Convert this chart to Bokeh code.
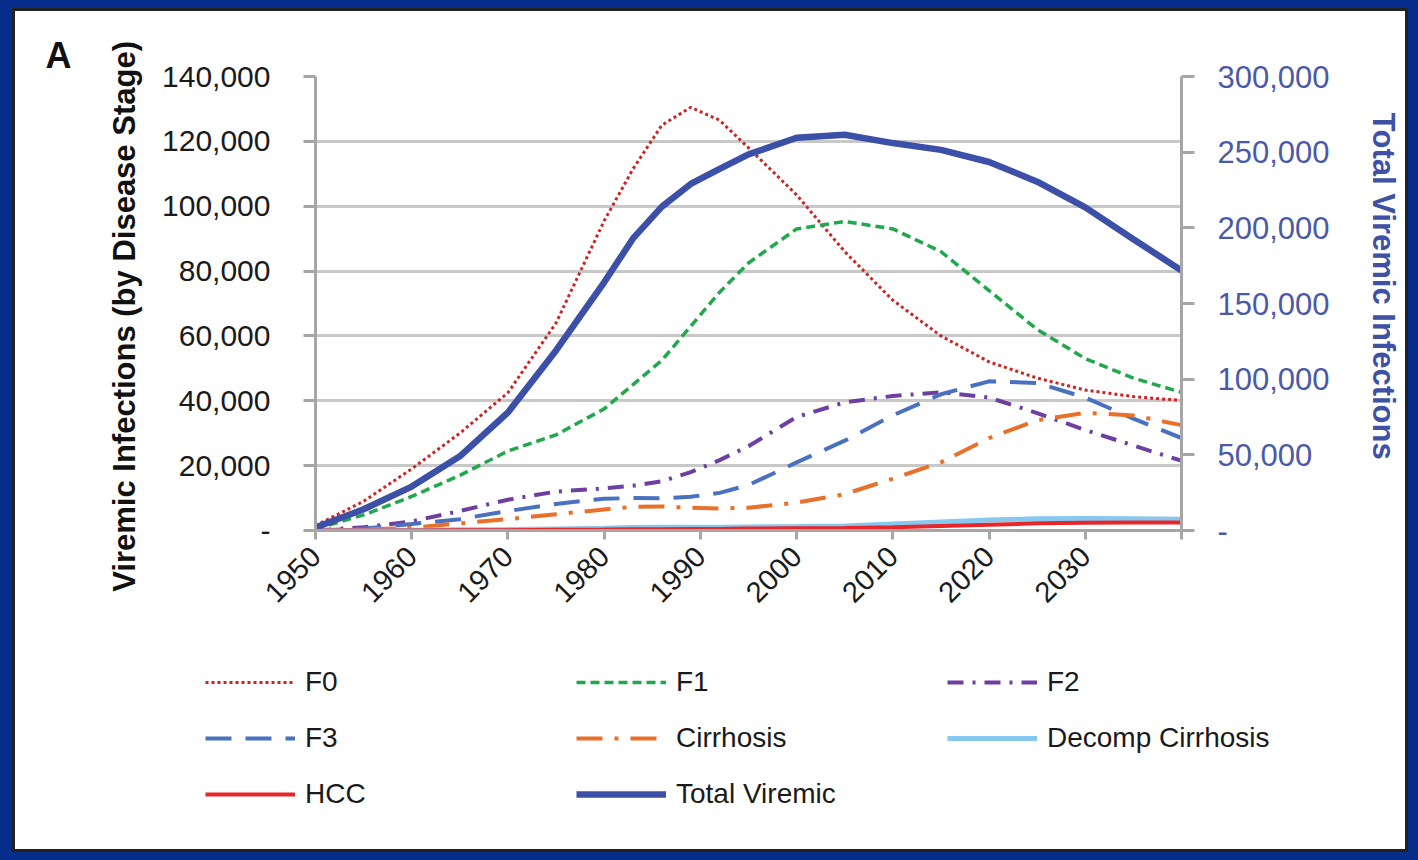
import math
from bokeh.plotting import figure
from bokeh.models import (Range1d, LinearAxis, FixedTicker, NumeralTickFormatter,
                          Legend, LegendItem)
from bokeh.layouts import column
from bokeh.embed import file_html
from bokeh.resources import INLINE

# ---------------- data ----------------
years = [1950, 1955, 1960, 1965, 1970, 1975, 1980, 1983, 1986, 1989, 1992,
         1995, 2000, 2005, 2010, 2015, 2020, 2025, 2030, 2035, 2040]
f0 = [1500, 9000, 19000, 30000, 42500, 64000, 95500, 111500, 125000, 130500, 126500,
      118000, 103500, 86000, 71000, 60000, 52000, 47000, 43300, 41300, 40100]
f1 = [500, 4800, 10500, 17000, 24500, 29500, 37500, 45000, 52500, 63000, 73500,
      82500, 93000, 95300, 93000, 86000, 74000, 62000, 53000, 47000, 42600]
f2 = [0, 1000, 2800, 6000, 9500, 12000, 13000, 13800, 15200, 18000, 21700,
      26000, 35000, 39500, 41500, 42600, 41000, 36200, 31000, 26200, 21500]
f3 = [0, 600, 2000, 3500, 6000, 8200, 9800, 10000, 9900, 10400, 11600,
      14000, 21000, 27700, 35500, 42000, 46000, 45500, 41000, 34500, 28500]
cirrhosis = [0, 300, 800, 2200, 3500, 5000, 6500, 7300, 7400, 7000, 6800,
             7000, 8600, 11200, 16000, 21000, 28500, 34000, 36300, 35500, 32500]
decomp = [0, 0, 100, 200, 300, 500, 700, 900, 1000, 1000, 1000,
          1100, 1200, 1400, 2000, 2600, 3200, 3600, 3700, 3600, 3500]
hcc = [0, 0, 0, 100, 100, 200, 300, 400, 400, 500, 500,
       600, 700, 800, 1000, 1400, 1800, 2200, 2400, 2500, 2500]
total_viremic = [2000, 14000, 29000, 49000, 78000, 119000, 164000, 193000, 214000, 229000, 239000,
                 248500, 259500, 261500, 256000, 251500, 243500, 230500, 213500, 192500, 171800]

series_names = ["F0", "F1", "F2", "F3", "Cirrhosis", "Decomp Cirrhosis", "HCC", "Total Viremic"]

x_ticks = [1950, 1960, 1970, 1980, 1990, 2000, 2010, 2020, 2030, 2040]
left_ticks = [0, 20000, 40000, 60000, 80000, 100000, 120000, 140000]
right_ticks = [0, 50000, 100000, 150000, 200000, 250000, 300000]

FONT = "Liberation Sans"

styles = [
    dict(line_color="#cc2424", line_width=3, line_dash="3 3"),
    dict(line_color="#22a84c", line_width=3.5, line_dash="9 5"),
    dict(line_color="#6e3fa0", line_width=4, line_dash="16 9 3 9"),
    dict(line_color="#4a70c0", line_width=4, line_dash="26 14"),
    dict(line_color="#e8702a", line_width=4, line_dash="26 12 4 12"),
    dict(line_color="#86c8f0", line_width=5),
    dict(line_color="#e8262a", line_width=4),
    dict(line_color="#3c50a8", line_width=6.5),
]
values = [f0, f1, f2, f3, cirrhosis, decomp, hcc, total_viremic]

# ---------------- main chart ----------------
p = figure(width=1390, height=649, x_range=Range1d(1950, 2040),
           y_range=Range1d(0, 140000), output_backend="svg", toolbar_location=None,
           min_border_left=300, min_border_right=224, min_border_top=65,
           min_border_bottom=130)
p.frame_align = False
p.extra_y_ranges = {"total": Range1d(0, 300000)}
p.outline_line_color = None
p.border_fill_color = "white"
p.background_fill_color = "white"
p.xgrid.visible = False
p.ygrid.ticker = FixedTicker(ticks=left_ticks)
p.ygrid.grid_line_color = "#c8c8c8"
p.ygrid.grid_line_width = 3

p.title.text = "A"
p.title.align = "left"
p.title.offset = -270
p.title.standoff = 2
p.title.text_font = FONT
p.title.text_font_style = "bold"
p.title.text_font_size = "36px"
p.title.text_color = "#111111"

AXC = "#a6a6a6"

def style_axis(ax, size):
    ax.axis_line_color = AXC
    ax.axis_line_width = 3
    ax.major_tick_line_color = AXC
    ax.major_tick_line_width = 3
    ax.major_tick_in = 0
    ax.minor_tick_line_color = None
    ax.major_label_text_font = FONT
    ax.major_label_text_font_size = size
    ax.axis_label_text_font = FONT
    ax.axis_label_text_font_style = "bold"
    ax.axis_label_text_font_size = "31px"

ya = p.yaxis[0]
style_axis(ya, "30px")
ya.ticker = FixedTicker(ticks=left_ticks)
ya.formatter = NumeralTickFormatter(format="0,0")
ya.major_label_overrides = {0: "-"}
ya.major_tick_out = 12
ya.major_label_standoff = 33
ya.major_label_text_color = "#1a1a1a"
ya.axis_label = "Viremic Infections (by Disease Stage)" + "\u00a0" * 3
ya.axis_label_standoff = 17
ya.axis_label_text_color = "#111111"

ra = LinearAxis(y_range_name="total")
style_axis(ra, "31px")
ra.ticker = FixedTicker(ticks=right_ticks)
ra.formatter = NumeralTickFormatter(format="0,0")
ra.major_label_overrides = {0: "-"}
ra.major_tick_out = 13
ra.major_label_standoff = 23
ra.major_label_text_color = "#4b5aa8"
ra.axis_label = "Total Viremic Infections" + "\u00a0" * 4
ra.axis_label_text_color = "#3f51a5"
ra.axis_label_standoff = 33
p.add_layout(ra, "right")

xa = p.xaxis[0]
style_axis(xa, "29px")
xa.ticker = FixedTicker(ticks=x_ticks)
xa.major_label_overrides = {t: ("" if t == 2040 else str(t)) for t in x_ticks}
xa.major_label_orientation = math.pi / 4
xa.major_tick_out = 9
xa.major_label_standoff = 12
xa.major_label_text_color = "#1a1a1a"

for i, (vals, st) in enumerate(zip(values, styles)):
    if i == 7:
        p.line(years, vals, y_range_name="total", **st)
    else:
        p.line(years, vals, **st)

# ---------------- legend strip (same series, drawn out of view; legend only) ----------------
q = figure(width=1390, height=189, x_range=Range1d(1950, 2040),
           y_range=Range1d(-2000000, -1000000),
           output_backend="svg", toolbar_location=None, min_border=0,
           x_axis_location=None, y_axis_location=None)
q.frame_align = False
q.grid.visible = False
q.xgrid.grid_line_color = None
q.ygrid.grid_line_color = None
q.outline_line_color = None
q.border_fill_color = "white"
q.background_fill_color = "white"
items = []
for name, vals, st in zip(series_names, values, styles):
    r = q.line(years, vals, **st)
    items.append(LegendItem(label=name, renderers=[r]))

legend = Legend(items=items, location=(190, 35), ncols=3, orientation="horizontal",
                glyph_width=90, glyph_height=40, label_height=40, label_width=255,
                label_standoff=10, spacing=16, padding=0, margin=0,
                border_line_color=None, background_fill_alpha=0,
                label_text_font=FONT, label_text_font_size="28px",
                label_text_color="#1a1a1a")
q.add_layout(legend, "center")

inner = column(p, q, spacing=0, styles={"background-color": "white", "padding": "3px",
                                        "box-shadow": "inset 0 0 0 3px #222222"})
outer = column(inner, styles={"background-color": "#062d8c",
                              "padding": "8px 10px 8px 12px"})

open("out.html", "w").write(file_html(outer, INLINE))
